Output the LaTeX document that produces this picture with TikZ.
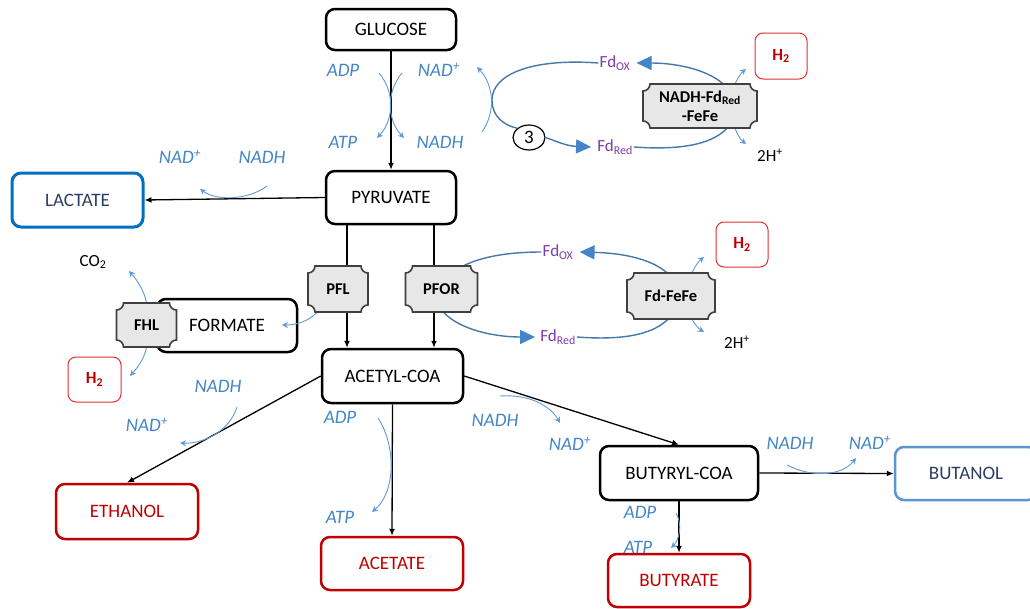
\documentclass[tikz,border=0pt]{standalone}
\usepackage{fontspec}
\setmainfont{Carlito}
\usetikzlibrary{arrows.meta,shapes.geometric,calc}
\pgfdeclarelayer{front}
\pgfsetlayers{main,front}
\definecolor{lblblue}{RGB}{68,134,200}
\definecolor{arcblue}{RGB}{95,155,215}
\definecolor{ellblue}{RGB}{70,120,170}
\definecolor{tipblue}{RGB}{70,132,200}
\definecolor{fdpurple}{RGB}{125,60,175}
\definecolor{dred}{RGB}{192,0,0}
\definecolor{hred}{RGB}{222,50,50}
\definecolor{lacblue}{RGB}{0,112,192}
\definecolor{butblue}{RGB}{91,150,210}
\definecolor{navy}{RGB}{45,60,100}
\definecolor{plqfill}{RGB}{231,231,231}
\definecolor{plqline}{RGB}{64,64,64}
\tikzset{
 mainbox/.style={draw, line width=2.5pt, rounded corners=9pt, fill=white, inner sep=0pt, font=\fontsize{19}{22}\selectfont},
 redbox/.style={mainbox, draw=dred, text=dred},
 lacbox/.style={mainbox, draw=lacblue, line width=3pt, text=navy},
 butbox/.style={mainbox, draw=butblue, text=navy},
 hbox/.style={draw=hred, line width=1pt, rounded corners=8pt, fill=white, inner sep=0pt, text=dred, font=\bfseries\fontsize{17}{20}\selectfont},
 lbl/.style={text=lblblue, inner sep=1pt, font=\itshape\fontsize{19}{22}\selectfont},
 fdl/.style={text=fdpurple, inner sep=1pt, font=\fontsize{17}{20}\selectfont},
 blk/.style={text=black, inner sep=1pt, font=\fontsize{17}{20}\selectfont},
 plqtext/.style={inner sep=0pt, align=center, font=\bfseries\fontsize{16.5}{19}\selectfont},
 arr/.style={-{Latex[length=7pt,width=6pt]}, line width=1.3pt, black},
 barc/.style={-{Stealth[length=6pt,width=6pt]}, line width=0.9pt, arcblue},
 ell/.style={line width=1.4pt, ellblue},
 ellarr/.style={ell, -{Triangle[length=15pt,width=14pt,color=tipblue]}},
}
\newcommand\plaquebox[6]{%
 \begin{scope}[shift={(#2,#3)}]
 \pgfmathsetmacro\plqa{#4}\pgfmathsetmacro\plqb{#5}
 \filldraw[fill=plqfill,draw=plqline,line width=1.6pt]
  ({-\plqa+7},{-\plqb}) -- ({\plqa-7},{-\plqb}) .. controls ({\plqa-7},{-\plqb+3.9}) and ({\plqa-3.9},{-\plqb+7}) .. ({\plqa},{-\plqb+7})
  -- ({\plqa},{\plqb-7}) .. controls ({\plqa-3.9},{\plqb-7}) and ({\plqa-7},{\plqb-3.9}) .. ({\plqa-7},{\plqb})
  -- ({-\plqa+7},{\plqb}) .. controls ({-\plqa+7},{\plqb-3.9}) and ({-\plqa+3.9},{\plqb-7}) .. ({-\plqa},{\plqb-7})
  -- ({-\plqa},{-\plqb+7}) .. controls ({-\plqa+3.9},{-\plqb+7}) and ({-\plqa+7},{-\plqb+3.9}) .. cycle;
 \end{scope}
 \node[plqtext, minimum width={2*#4}, minimum height={2*#5}] (#1) at (#2,#3) {#6};}
\begin{document}
\begin{tikzpicture}[x=1pt,y=-1pt]
\useasboundingbox (0,0) rectangle (1030,608);
\fill[white] (0,0) rectangle (1030,608);

% main boxes
\node[mainbox, minimum width=130, minimum height=41] (glu) at (391,29.5) {GLUCOSE};
\node[mainbox, minimum width=130, minimum height=53] (pyr) at (391,197.5) {PYRUVATE};
\node[lacbox, minimum width=131, minimum height=54] (lac) at (77.5,200) {LACTATE};
\node[mainbox, minimum width=140, minimum height=53] (form) at (227,325.5) {FORMATE};
\node[mainbox, minimum width=141, minimum height=54] (acet) at (392.5,376) {ACETYL-COA};
\node[redbox, minimum width=142, minimum height=55] (eth) at (127,511.5) {ETHANOL};
\node[redbox, minimum width=142, minimum height=53] (acta) at (392,563.5) {ACETATE};
\node[mainbox, minimum width=158, minimum height=54] (buty) at (679,473) {BUTYRYL-COA};
\node[butbox, minimum width=142, minimum height=53] (buto) at (966,473.5) {BUTANOL};
\node[redbox, minimum width=142, minimum height=53] (butr) at (679,580.5) {BUTYRATE};
\node[hbox, minimum width=52, minimum height=46] (h2a) at (781,56) {H\textsubscript{2}};
\node[hbox, minimum width=52, minimum height=45] (h2b) at (742,244.5) {H\textsubscript{2}};
\node[hbox, minimum width=53, minimum height=45] (h2c) at (94.5,379.5) {H\textsubscript{2}};
\node[ellipse, draw, line width=1.2pt, fill=white, minimum width=32, minimum height=25, inner sep=0pt, font=\fontsize{19}{22}\selectfont] (three) at (529,137.5) {3};

% labels
\node[lbl] (adp1) at (343,70) {ADP};
\node[lbl] (nadp1) at (439,70) {NAD\textsuperscript{+}};
\node[lbl] (atp1) at (343,142) {ATP};
\node[lbl] (nadh1) at (440,142) {NADH};
\node[lbl] (nadp2) at (180,157) {NAD\textsuperscript{+}};
\node[lbl] (nadh2) at (262,157) {NADH};
\node[lbl] (nadh3) at (218,386) {NADH};
\node[lbl] (nadp3) at (147,425) {NAD\textsuperscript{+}};
\node[lbl] (adp2) at (340,417) {ADP};
\node[lbl] (atp2) at (340,517) {ATP};
\node[lbl] (nadh4) at (495,420) {NADH};
\node[lbl] (nadp4) at (570,444) {NAD\textsuperscript{+}};
\node[lbl] (nadh5) at (790,443) {NADH};
\node[lbl] (nadp5) at (870,443) {NAD\textsuperscript{+}};
\node[lbl] (adp3) at (640,512) {ADP};
\node[lbl] (atp3) at (638,547) {ATP};
\node[blk] (co2) at (93,262) {CO\textsubscript{2}};
\node[blk] (hp1) at (770,155) {2H\textsuperscript{+}};
\node[blk] (hp2) at (737,342) {2H\textsuperscript{+}};
\node[fdl] (fdox1) at (615,63) {Fd\textsubscript{OX}};
\node[fdl] (fdred1) at (615,147) {Fd\textsubscript{Red}};
\node[fdl] (fdox2) at (558,252) {Fd\textsubscript{OX}};
\node[fdl] (fdred2) at (558,337) {Fd\textsubscript{Red}};

% enzymes (front layer)
\begin{pgfonlayer}{front}
\plaquebox{pfl}{338}{289}{30}{23}{PFL}
\plaquebox{pfor}{441.5}{289}{36}{23}{PFOR}
\plaquebox{fhl}{146.5}{325}{30}{22}{FHL}
\plaquebox{fdff}{671}{296}{44}{23}{Fd-FeFe}
\plaquebox{nfb}{700}{106}{57}{22}{NADH-Fd\textsubscript{Red}\\-FeFe}
\end{pgfonlayer}

% main arrows
\coordinate (xl) at (347,0);
\coordinate (xr) at (434,0);
\draw[arr] (glu) -- (pyr);
\draw[arr] (pyr.west) -- (lac.east);
\draw[arr] (pyr.south -| xl) -- (acet.north -| xl);
\draw[arr] (pyr.south -| xr) -- (acet.north -| xr);
\draw[arr] (acet.west) -- (eth.north);
\draw[arr] (acet.south) -- (acta.north);
\draw[arr] (acet.east) -- (buty.north);
\draw[arr] (buty.east) -- (buto.west);
\draw[arr] (buty.south) -- (butr.north);

% top ferredoxin cycle
\draw[ellarr] ([xshift=23]nfb.north) .. controls (705,68) and (672,63) .. ([xshift=5]fdox1.east);
\draw[ell] (fdox1.west) .. controls (530,58) and (492,75) .. (492,100) .. controls (492,116) and (503,125) .. (three.north west);
\draw[ellarr] (three.east) .. controls (556,141) and (566,146) .. ([xshift=-5]fdred1.west);
\draw[ell] (fdred1.east) .. controls (690,151) and (715,141) .. ([xshift=27]nfb.south);
% middle ferredoxin cycle
\draw[ell] ([xshift=22]pfor.north) .. controls (485,255) and (515,252) .. (fdox2.west);
\draw[ellarr] ([xshift=-4]fdff.north) .. controls (650,258) and (620,253) .. ([xshift=5]fdox2.east);
\draw[ellarr] ([xshift=2]pfor.south) .. controls (460,330) and (495,337) .. ([xshift=-4]fdred2.west);
\draw[ell] (fdred2.east) .. controls (630,341) and (655,332) .. ([xshift=-3]fdff.south);

% small blue arcs
\draw[barc] (379,73) .. controls (395,92) and (394,120) .. (377,138);
\draw[barc] (402,73) .. controls (386,92) and (387,120) .. (404,138);
\draw[barc] (482,132) .. controls (496,112) and (494,85) .. (477,67);
\draw[barc] (267,186) .. controls (250,199) and (218,202) .. (200,189);
\draw[barc] ([xshift=-21]pfl.south) .. controls (310,320) and (298,325) .. (282,325);
\draw[barc] (fhl.north) .. controls (144,290) and (137,280) .. (129,271);
\draw[barc] (fhl.south) .. controls (144,360) and (137,368) .. (130,376);
\draw[barc] (237,407) .. controls (230,430) and (205,444) .. (180,443);
\draw[barc] (378,418) .. controls (396,445) and (396,492) .. (372,512);
\draw[barc] (500,396) .. controls (528,394) and (550,405) .. (560,423);
\draw[barc] (787,465) .. controls (812,478) and (842,476) .. (856,458);
\draw[barc] (676,513) .. controls (683,525) and (679,540) .. (671,548);
\draw[barc] ([xshift=35]nfb.north) .. controls (738,78) and (741,73) .. (746,69);
\draw[barc] ([xshift=35]nfb.south) .. controls (738,136) and (741,140) .. (746,144);
\draw[barc] ([xshift=21]fdff.north) .. controls (695,266) and (699,261) .. (704,257);
\draw[barc] ([xshift=21]fdff.south) .. controls (695,325) and (699,329) .. (704,332);
\end{tikzpicture}
\end{document}
